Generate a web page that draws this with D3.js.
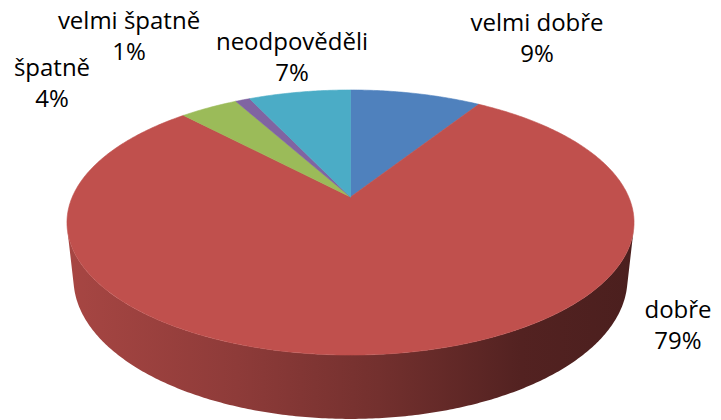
<!DOCTYPE html>
<html>
<head>
<meta charset="utf-8">
<script src="https://cdn.jsdelivr.net/npm/d3@7"></script>
<style>
  body { margin: 0; background: #fff; }
  svg { display: block; }
</style>
</head>
<body>
<svg></svg>
<script>
// Data
const categories = ["velmi dobře", "dobře", "špatně", "velmi špatně", "neodpověděli"];
const values = [9, 79, 4, 1, 7];
const percentLabels = ["9%", "79%", "4%", "1%", "7%"];
const colors = ["#4f81bd", "#c0504d", "#9bbb59", "#8064a2", "#4bacc6"];

// Label anchors (center x, baseline of first line), Excel "best fit" placement
const labelAnchors = [[537, 31], [678, 318], [52, 76], [129, 29], [292, 50]];

const width = 721, height = 420;

// Perspective camera fitted to the reference ellipse
const cam = { f: 1284.6, sin: 0.4587, cos: 0.8886, d: 4.617, cx: 350.5, cy: 197 };
const thickness = 0.229;

// a = pie angle (0 at the back, clockwise seen from above), y = 0 top face, -thickness bottom
function project(a, y) {
  const x = Math.sin(a), z = -Math.cos(a);
  const dist = cam.d - (y * cam.sin + z * cam.cos);
  const up = y * cam.cos - z * cam.sin;
  return [cam.cx + cam.f * x / dist, cam.cy - cam.f * up / dist];
}

function arcPoints(a0, a1, y) {
  const n = Math.max(2, Math.ceil(Math.abs(a1 - a0) / 0.01));
  return d3.range(n + 1).map((i) => project(a0 + (a1 - a0) * i / n, y));
}

const svg = d3.select("svg")
  .attr("width", width)
  .attr("height", height)
  .attr("viewBox", [0, 0, width, height].join(" "));

const defs = svg.append("defs");
const line = d3.line().curve(d3.curveLinear);

const arcs = d3.pie().sort(null).value((d) => d)(values);

// Visible part of the outer wall: between the silhouette tangents
const aVis = Math.acos(-1 / (cam.d * cam.cos));
const visStart = aVis, visEnd = 2 * Math.PI - aVis;

// Side wall
const walls = svg.append("g");
arcs.forEach((arc, i) => {
  const a0 = Math.max(arc.startAngle, visStart);
  const a1 = Math.min(arc.endAngle, visEnd);
  if (a1 <= a0) return;
  const top = arcPoints(a0, a1, 0);
  const bottom = arcPoints(a1, a0, -thickness);
  const pts = top.concat(bottom);
  const xs = d3.extent(pts, (p) => p[0]);
  const base = d3.color(colors[i]);
  const grad = defs.append("linearGradient")
    .attr("id", "wall" + i)
    .attr("gradientUnits", "userSpaceOnUse")
    .attr("x1", xs[0]).attr("x2", xs[1])
    .attr("y1", 0).attr("y2", 0);
  [[0, 0.87], [0.3, 0.74], [0.55, 0.6], [0.8, 0.43], [1, 0.39]].forEach(([o, k]) => {
    const c = d3.rgb(base.r * k, base.g * k, base.b * k);
    grad.append("stop").attr("offset", o).attr("stop-color", c.formatHex());
  });
  walls.append("path")
    .attr("d", line(pts) + "Z")
    .attr("fill", `url(#wall${i})`);
});

// Top face slices
svg.append("g")
  .selectAll("path")
  .data(arcs)
  .enter()
  .append("path")
  .attr("d", (d) => line([project(0, 0).map((v, k) => k ? cam.cy : cam.cx)].concat(arcPoints(d.startAngle, d.endAngle, 0))) + "Z")
  .attr("fill", (d, i) => colors[i])
  .attr("stroke", (d, i) => colors[i])
  .attr("stroke-width", 0.6)
  .attr("stroke-linejoin", "round");

// Labels
const labels = svg.append("g")
  .attr("font-family", "'Open Sans', sans-serif")
  .attr("font-size", "24px")
  .attr("fill", "#000")
  .attr("text-anchor", "middle");

categories.forEach((name, i) => {
  const [x, y] = labelAnchors[i];
  const t = labels.append("text").attr("x", x).attr("y", y);
  t.append("tspan").attr("x", x).text(name);
  t.append("tspan").attr("x", x).attr("dy", 31).text(percentLabels[i]);
});
</script>
</body>
</html>
